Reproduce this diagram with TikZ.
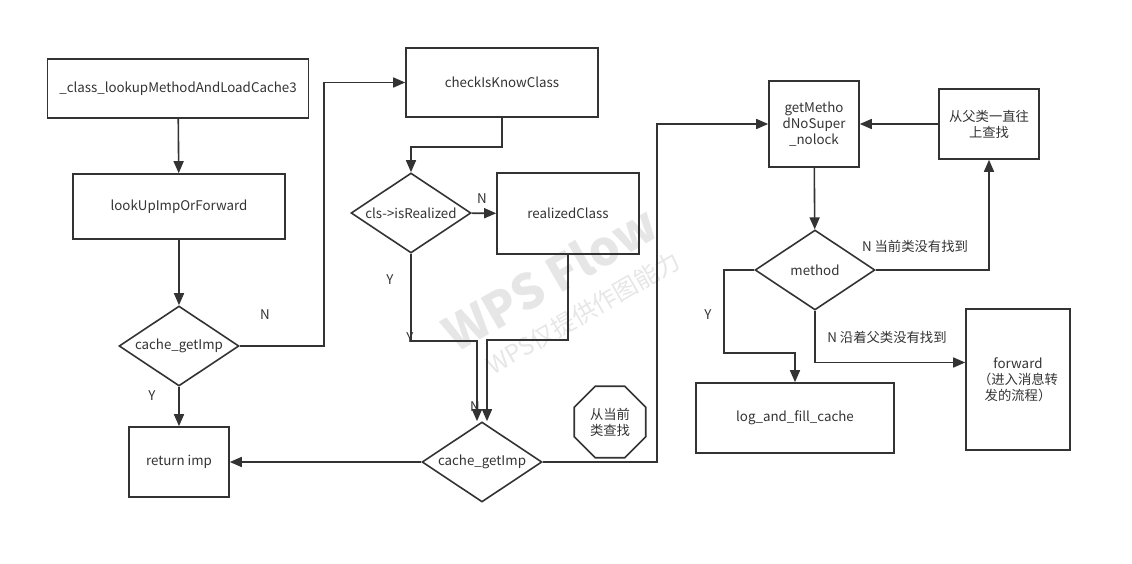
\documentclass[tikz,border=0pt]{standalone}
\usepackage{fontspec}
\setmainfont{Noto Sans CJK SC}
\usepackage{xcolor}
\usetikzlibrary{arrows.meta,shapes.geometric}
\definecolor{ink}{HTML}{333333}
\definecolor{wmark}{HTML}{E6E6E6}

\begin{document}
\begin{tikzpicture}[
  x=0.75pt,y=-0.75pt,
  every node/.style={text=ink, font=\fontsize{10pt}{12pt}\selectfont},
  box/.style={draw=ink, line width=1.2pt, rectangle, align=center, inner sep=2pt},
  dec/.style={draw=ink, line width=1.2pt, diamond, aspect=1.5, inner sep=0pt, minimum width=90pt, minimum height=60pt},
  oct/.style={draw=ink, line width=1.2pt, regular polygon, regular polygon sides=8, inner sep=0pt, minimum size=58pt, align=center},
  arrow/.style={-{Triangle[length=9pt,width=7.5pt]}, line width=1.2pt, draw=ink},
  lbl/.style={inner sep=1pt}
]
\useasboundingbox (0,0) rectangle (1132,564);
% watermark
\node[rotate=30, text=wmark, font=\fontsize{36pt}{38pt}\selectfont\bfseries] (wm) at (550,278) {WPS Flow};
\node[rotate=30, text=wmark, font=\fontsize{18pt}{20pt}\selectfont] (wmsub) at (583,313) {WPS仅提供作图能力};

\node[box, minimum width=195.75pt, minimum height=44.25pt] (load) at (178,88.5) {\_class\_lookupMethodAndLoadCache3};
\node[box, minimum width=159pt, minimum height=48.75pt] (lookup) at (179,206.5) {lookUpImpOrForward};
\node[dec] (cache) at (179,346) {cache\_getImp};
\node[box, minimum width=75pt, minimum height=52.5pt] (ret) at (179,462) {return imp};

\node[box, minimum width=144pt, minimum height=51.75pt] (check) at (502,82.5) {checkIsKnowClass};
\node[dec] (isreal) at (411,213) {cls->isRealized};
\node[box, minimum width=106.5pt, minimum height=60.75pt] (realize) at (568,213.5) {realizedClass};
\node[dec] (cacheb) at (482,462) {cache\_getImp};
\node[oct] (cur) at (610,422) {从当前\\类查找};

\node[box, minimum width=67.5pt, minimum height=64.5pt] (nosuper) at (814,124) {getMetho\\dNoSuper\\\_nolock};
\node[box, minimum width=75pt, minimum height=52.5pt] (super) at (989,124) {从父类一直往\\上查找};
\node[dec] (method) at (815,270) {method};
\node[box, minimum width=148.5pt, minimum height=52.5pt] (fill) at (795,418) {log\_and\_fill\_cache};
\node[box, minimum width=78pt, minimum height=105.75pt] (fwd) at (1018,379.5) {forward\\（进入消息转\\发的流程）};

% labels
\node[lbl] (n1) at (265,315) {N};
\node[lbl] (y1) at (152,396) {Y};
\node[lbl] (n2) at (482,199) {N};
\node[lbl] (y2) at (390,280) {Y};
\node[lbl] (y3) at (410,338) {Y};
\node[lbl] (n3) at (475,407) {N};
\node[lbl] (y4) at (708,315) {Y};
\node[lbl] (n4) at (915,246) {N 当前类没有找到};
\node[lbl] (n5) at (887,337) {N 沿着父类没有找到};

\draw[arrow] (load) -- (lookup);
\draw[arrow] (lookup) -- (cache);
\draw[arrow] (cache) -- (ret);
\draw[arrow] (cache.east) -- ++(84,0) |- (check.west);
\draw[arrow] (check.south) -- ++(0,29) -| (isreal.north);
\draw[arrow] (isreal) -- (realize);
\draw[arrow] (isreal.south) -- ++(0,87) -| ([xshift=-3.75pt]cacheb.north);
\draw[arrow] (realize.south) -- ++(0,85) -| ([xshift=3.75pt]cacheb.north);
\draw[arrow] (cacheb) -- (ret);
\draw[arrow] (cacheb.east) -- ++(114,0) |- (nosuper.west);
\draw[arrow] (super) -- (nosuper);
\draw[arrow] (nosuper) -- (method);
\draw[arrow] (method.east) -| (super.south);
\draw[arrow] (method.west) -- ++(-30,0) -- ++(0,83) -| (fill.north);
\draw[arrow] (method.south) |- ([yshift=12.75pt]fwd.west);
\end{tikzpicture}
\end{document}
